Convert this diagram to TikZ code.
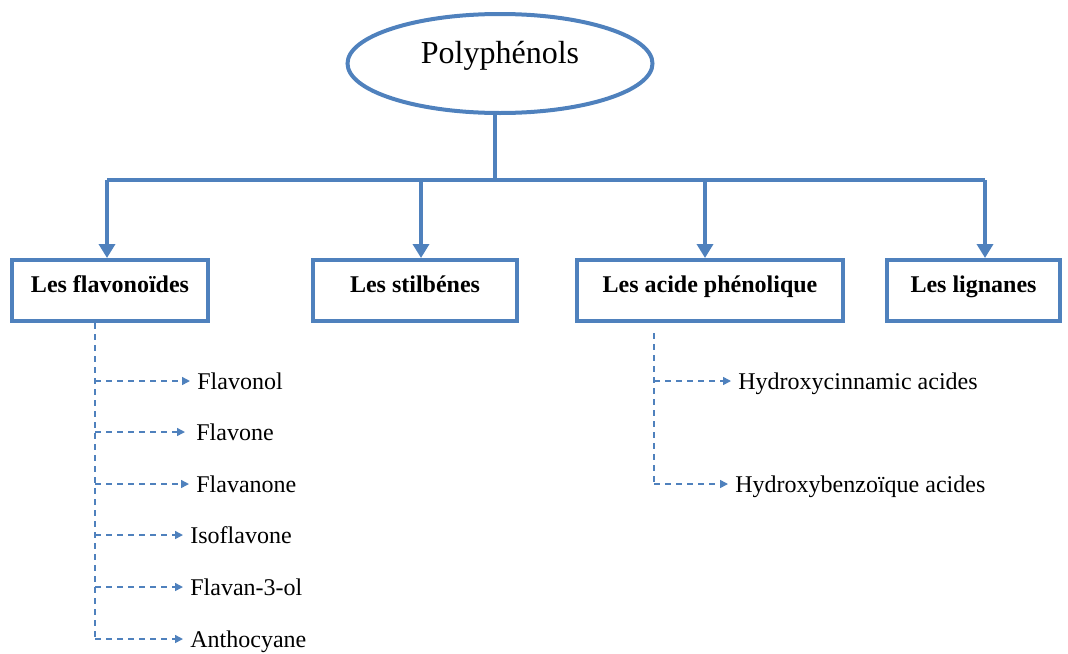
\documentclass[tikz,border=0pt]{standalone}
\usepackage{fontspec}
\setmainfont{Liberation Serif}
\usetikzlibrary{shapes.geometric,arrows.meta}
\definecolor{lineblue}{RGB}{79,129,189}

\begin{document}
\begin{tikzpicture}[x=0.5pt, y=-0.5pt,
    family/.style={draw=lineblue, line width=2pt, inner sep=0pt,
        minimum height=30.5pt, text height=16pt, text depth=14.5pt,
        font=\fontsize{12}{14}\selectfont\bfseries},
    item/.style={anchor=west, inner sep=0pt, text height=8pt, text depth=0pt,
        font=\fontsize{12}{14}\selectfont},
    trunk/.style={draw=lineblue, line width=2pt},
    link/.style={trunk, -{Triangle[width=8pt, length=7pt]}},
    sub/.style={draw=lineblue, line width=0.75pt, dash pattern=on 3pt off 2.5pt},
    sublink/.style={sub, -{Triangle[width=4pt, length=4pt]}, shorten >=3.5pt}]
    \useasboundingbox (0,0) rectangle (1068,653);

    \node[ellipse, draw=lineblue, line width=2pt, minimum width=152.5pt, minimum height=49.5pt,
        inner sep=0pt, text height=8pt, text depth=8pt, font=\fontsize{16}{18}\selectfont]
        (poly) at (500,63.5) {Polyphénols};

    \node[family, minimum width=98pt] (flav) at (110,290.5) {Les flavonoïdes};
    \node[family, minimum width=102pt] (stil) at (415,290.5) {Les stilbénes};
    \node[family, minimum width=133pt] (acid) at (710,290.5) {Les acide phénolique};
    \node[family, minimum width=86.5pt] (lign) at (973.5,290.5) {Les lignanes};

    \coordinate (hub) at (495,180);
    \coordinate (h1) at (107,180);
    \coordinate (h2) at (421,180);
    \coordinate (h3) at (705,180);
    \coordinate (h4) at (985,180);

    \draw[trunk] (poly.south -| hub) -- (hub);
    \draw[trunk] (h1) -- (h4);
    \draw[link] (h1) -- (h1 |- flav.north);
    \draw[link] (h2) -- (h2 |- stil.north);
    \draw[link] (h3) -- (h3 |- acid.north);
    \draw[link] (h4) -- (h4 |- lign.north);

    % flavonoids
    \node[item] (fl1) at (197,381) {Flavonol};
    \node[item] (fl2) at (196,432) {Flavone};
    \node[item] (fl3) at (196,484) {Flavanone};
    \node[item] (fl4) at (190,535) {Isoflavone};
    \node[item] (fl5) at (190,587) {Flavan-3-ol};
    \node[item] (fl6) at (190,639) {Anthocyane};

    \coordinate (fv) at (95,323);
    \draw[sub] (fv) -- (fv |- fl6);
    \draw[sublink] (fv |- fl1) -- (fl1.west);
    \draw[sublink] (fv |- fl2) -- ([xshift=-2pt]fl2.west);
    \draw[sublink] (fv |- fl3) -- (fl3.west);
    \draw[sublink] (fv |- fl4) -- (fl4.west);
    \draw[sublink] (fv |- fl5) -- (fl5.west);
    \draw[sublink] (fv |- fl6) -- (fl6.west);

    % phenolic acids
    \node[item] (ac1) at (738,381) {Hydroxycinnamic acides};
    \node[item] (ac2) at (735,484) {Hydroxybenzoïque acides};

    \coordinate (av) at (654,333);
    \draw[sub] (av) -- (av |- ac2);
    \draw[sublink] (av |- ac1) -- (ac1.west);
    \draw[sublink] (av |- ac2) -- (ac2.west);
\end{tikzpicture}
\end{document}
